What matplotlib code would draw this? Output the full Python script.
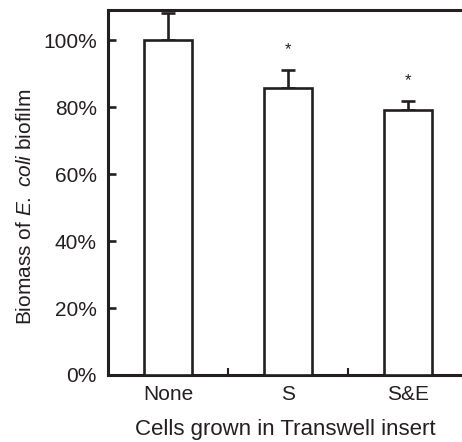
import matplotlib
matplotlib.use("Agg")
import matplotlib.pyplot as plt
import numpy as np

# Données
categories = ["None", "S", "S&E"]
biomass = [100, 85.7, 79.1]
erreurs = [8.0, 5.4, 2.7]
etoiles = ["", "*", "*"]

plt.rcParams['font.family'] = ['Liberation Sans', 'DejaVu Sans']
plt.rcParams['mathtext.fontset'] = 'custom'
plt.rcParams['mathtext.rm'] = 'Liberation Sans'
plt.rcParams['mathtext.it'] = 'Liberation Sans:italic'

encre = '#231f20'

fig = plt.figure(figsize=(4.62, 4.42), dpi=100)
ax = fig.add_axes([108 / 462, 1 - 375 / 442, 360 / 462, 365 / 442])

x = np.arange(len(categories))
ax.bar(x, biomass, width=0.4, color='white', edgecolor=encre, linewidth=1.9, zorder=3)
ax.errorbar(x, biomass, yerr=[np.zeros(len(x)), erreurs], fmt='none', ecolor=encre,
            elinewidth=1.9, capsize=4.7, capthick=1.9, zorder=2)

# Astérisques de significativité
for xi, b, e, s in zip(x, biomass, erreurs, etoiles):
    if s:
        ax.text(xi, b + e + 6.0, s, ha='center', va='center', fontsize=12, color=encre)

ax.set_xlim(-0.5, 2.5)
ax.set_ylim(0, 109)
ax.set_yticks([0, 20, 40, 60, 80, 100])
ax.set_yticklabels([f"{v}%" for v in [0, 20, 40, 60, 80, 100]])
ax.set_xticks(x)
ax.set_xticklabels(categories)
ax.set_xticks([0.5, 1.5], minor=True)

ax.tick_params(axis='y', direction='in', length=6, width=1.9, labelsize=15, pad=8, colors=encre)
ax.tick_params(axis='x', which='major', length=0, labelsize=15, pad=7, colors=encre)
ax.tick_params(axis='x', which='minor', direction='in', length=5, width=1.5, colors=encre)

for sp in ax.spines.values():
    sp.set_linewidth(2.2)
    sp.set_color(encre)

fig.text(285 / 462, 1 - 430 / 442, "Cells grown in Transwell insert", fontsize=16,
         ha='center', va='center', color=encre)
fig.text(26 / 462, 1 - 207 / 442, r"Biomass of $\it{E.\ coli}$ biofilm", fontsize=15,
         rotation=90, ha='center', va='center', color=encre)

fig.savefig("out.png", dpi=100)
